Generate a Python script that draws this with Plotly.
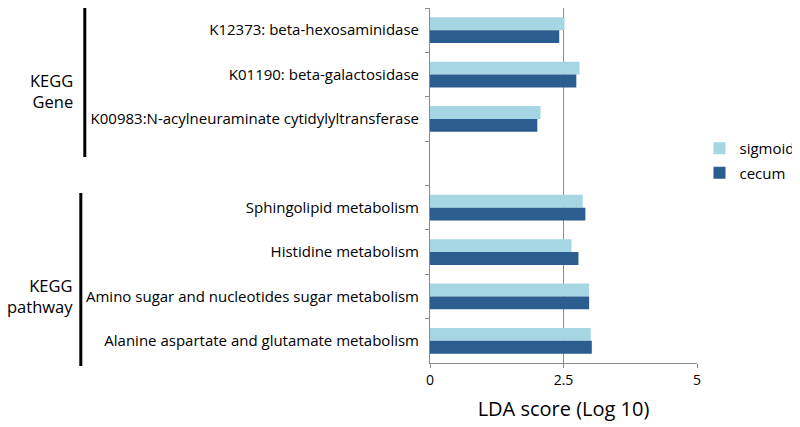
import plotly.graph_objects as go

# the page body adds an 8px margin, so the figure is laid out 8px smaller
OFF = 8
W, H = 800 - OFF, 427 - OFF
L, R, T, B = 429.5 - OFF, 102.5, 0, 64

gene_labels = ["K12373: beta-hexosaminidase",
               "K01190: beta-galactosidase",
               "K00983:N-acylneuraminate cytidylyltransferase"]
pathway_labels = ["Sphingolipid metabolism",
                  "Histidine metabolism",
                  "Amino sugar and nucleotides sugar metabolism",
                  "Alanine aspartate and glutamate metabolism"]

gene_sigmoid = [2.52, 2.80, 2.07]
gene_cecum = [2.42, 2.74, 2.01]
pathway_sigmoid = [2.86, 2.65, 2.98, 3.01]
pathway_cecum = [2.91, 2.78, 2.98, 3.03]

# blank slot between the two groups
categories = gene_labels + [" "] + pathway_labels
sigmoid = gene_sigmoid + [None] + pathway_sigmoid
cecum = gene_cecum + [None] + pathway_cecum

FONT = "Open Sans"

fig = go.Figure()
fig.add_trace(go.Bar(y=categories, x=sigmoid, name="sigmoid", orientation="h",
                     legendgroup="a",
                     marker=dict(color="#a6d6e3", line=dict(width=0))))
fig.add_trace(go.Bar(y=categories, x=cecum, name="cecum", orientation="h",
                     legendgroup="b",
                     marker=dict(color="#2b5d8e", line=dict(width=0))))

pw, ph = W - L - R, H - T - B
def px(x):
    # page pixel -> paper fraction
    return (x - OFF - L) / pw
def py(y):
    return (H - B - (y - OFF)) / ph

fig.update_layout(
    width=W, height=H,
    margin=dict(l=L, r=R, t=T, b=B, autoexpand=False),
    plot_bgcolor="white", paper_bgcolor="white",
    font=dict(family=FONT, color="black"),
    barmode="group", bargap=0.42, bargroupgap=0,
    legend=dict(x=px(700), y=py(132), xanchor="left", yanchor="top",
                font=dict(size=15), traceorder="grouped", tracegroupgap=2,
                itemwidth=30, bgcolor="rgba(0,0,0,0)"),
    xaxis=dict(range=[0, 5], tickvals=[0, 2.5, 5], ticktext=["0", "2.5", "5"],
               showgrid=True, gridcolor="#8c8c8c", gridwidth=1,
               showline=True, linecolor="#8c8c8c", linewidth=1,
               ticks="outside", ticklen=4, tickcolor="#8c8c8c",
               tickfont=dict(size=14), zeroline=False,
               title=dict(text="LDA score (Log 10)", font=dict(size=20), standoff=14)),
    yaxis=dict(categoryorder="array", categoryarray=categories,
               autorange="reversed", tickson="boundaries",
               showline=True, linecolor="#8c8c8c", linewidth=1,
               ticks="outside", ticklen=4, tickcolor="#8c8c8c",
               tickfont=dict(size=15), showgrid=False, ticklabelstandoff=7),
)

# group brackets and labels on the left
for x, y0, y1 in [(83, 8, 157), (79, 193, 366)]:
    fig.add_shape(type="line", xref="paper", yref="paper",
                  x0=px(x), x1=px(x), y0=py(y0), y1=py(y1),
                  line=dict(color="black", width=3))
fig.add_annotation(text="KEGG<br>Gene", xref="paper", yref="paper",
                   x=px(73), y=py(90.5), xanchor="right", yanchor="middle",
                   align="right", showarrow=False, font=dict(size=16.5))
fig.add_annotation(text="KEGG<br>pathway", xref="paper", yref="paper",
                   x=px(73), y=py(296), xanchor="right", yanchor="middle",
                   align="right", showarrow=False, font=dict(size=16.5))

fig.write_html("out.html")
